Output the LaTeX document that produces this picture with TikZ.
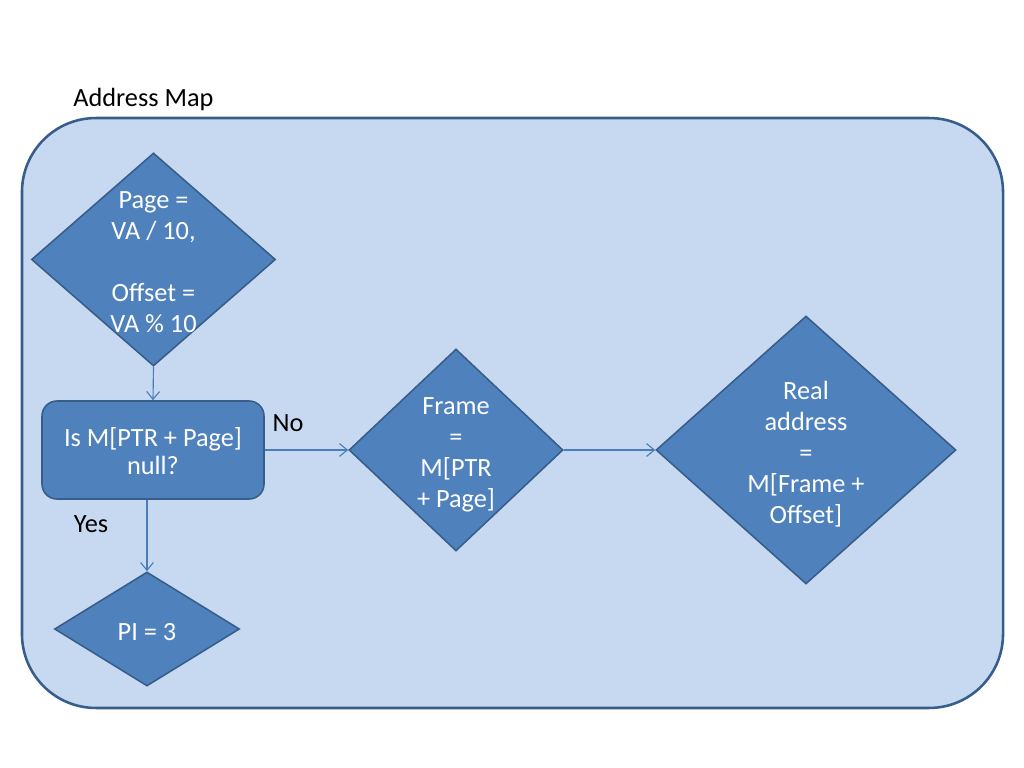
\documentclass[tikz,border=0pt]{standalone}
\usepackage{fontspec}
\setmainfont{Carlito}
\usetikzlibrary{shapes.geometric,arrows.meta}
\definecolor{bgfill}{HTML}{C6D9F1}
\definecolor{shapefill}{HTML}{4F81BD}
\definecolor{shapeline}{HTML}{385D8A}
\definecolor{conn}{HTML}{4A7EBB}
\newcommand{\zt}[2][21.8pt]{\makebox[0pt]{\smash{\raisebox{-8pt}{\fontsize{18.5pt}{#1}\selectfont\begin{tabular}{@{}c@{}}#2\end{tabular}}}}}
\begin{document}
\begin{tikzpicture}[x=0.703125pt,y=-0.703125pt,
  every node/.style={font=\fontsize{18.5pt}{21.8pt}\selectfont},
  dia/.style={shape=diamond,draw=shapeline,fill=shapefill,line width=1.1pt,inner sep=0pt,text=white},
  rbox/.style={shape=rectangle,rounded corners=10.5pt,draw=shapeline,fill=shapefill,line width=1.1pt,inner sep=0pt,text=white},
  conn/.style={draw=conn,line width=0.8pt,-{Straight Barb[length=5.5pt,width=9pt]}},
  lbl/.style={text=black,inner sep=0pt}]
\useasboundingbox (0,0) rectangle (1024,768);
\node[rectangle,rounded corners=52pt,draw=shapeline,fill=bgfill,line width=1.8pt,minimum width=689.8pt,minimum height=414.8pt,inner sep=0pt] (frame) at (512.5,413) {};
\node[lbl,anchor=west] (title) at (73,99) {Address Map};
\node[dia,minimum width=171.6pt,minimum height=149.8pt] (d1) at (153.5,259.5) {\zt{Page =\\VA / 10,\\ \\Offset =\\VA \% 10}};
\node[rbox,minimum width=156.1pt,minimum height=68.9pt] (r1) at (153,450) {\zt[19.6pt]{Is M[PTR + Page]\\null?}};
\node[dia,minimum width=150.5pt,minimum height=142pt] (d2) at (456,450) {\zt{Frame\\=\\M[PTR\\+ Page]}};
\node[dia,minimum width=210.9pt,minimum height=188.4pt] (d3) at (806,450) {\zt{Real\\address\\=\\M[Frame +\\Offset]}};
\node[dia,minimum width=130.1pt,minimum height=80.2pt] (d4) at (147,629) {\zt{PI = 3}};
\node[lbl] (no) at (288,423) {No};
\node[lbl] (yes) at (91,524) {Yes};
\draw[conn] (d1.south) -- (r1.north);
\draw[conn] (r1.east) -- (d2.west);
\draw[conn] (d2.east) -- (d3.west);
\draw[conn] (r1.south -| d4.north) -- (d4.north);
\end{tikzpicture}
\end{document}
